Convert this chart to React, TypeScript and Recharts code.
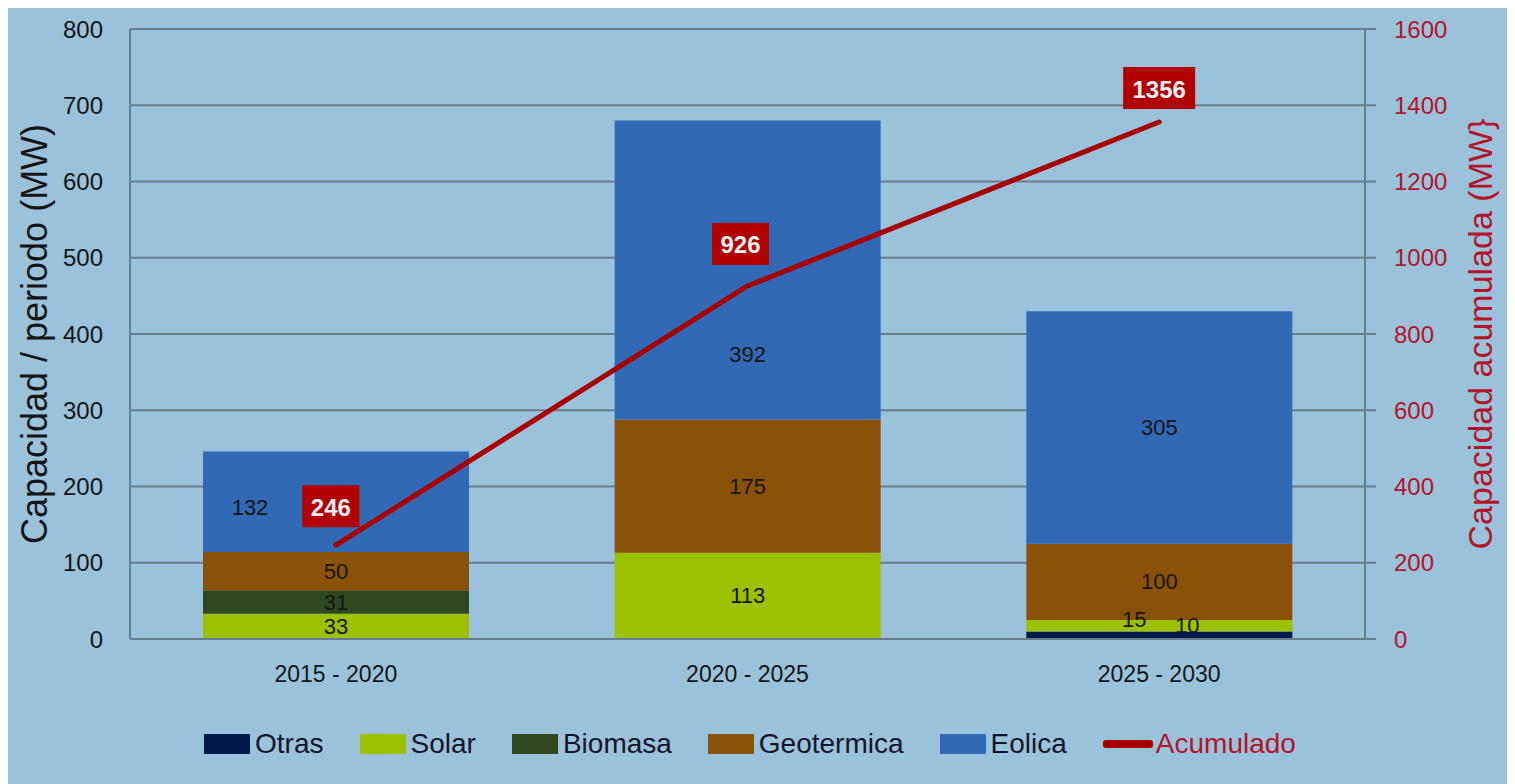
import React from 'react';
import {
  ComposedChart,
  Bar,
  Line,
  XAxis,
  YAxis,
  CartesianGrid,
  Legend,
  LabelList,
} from 'recharts';

const periods = ['2015 - 2020', '2020 - 2025', '2025 - 2030'];
const otras = [0, 0, 10];
const solar = [33, 113, 15];
const biomasa = [31, 0, 0];
const geotermica = [50, 175, 100];
const eolica = [132, 392, 305];
const acumulado = [246, 926, 1356];
const leftTicks = [0, 100, 200, 300, 400, 500, 600, 700, 800];
const rightTicks = [0, 200, 400, 600, 800, 1000, 1200, 1400, 1600];

const data = periods.map((p, i) => ({
  period: p,
  Otras: otras[i],
  Solar: solar[i],
  Biomasa: biomasa[i],
  Geotermica: geotermica[i],
  Eolica: eolica[i],
  Acumulado: acumulado[i],
}));

const COLORS: Record<string, string> = {
  Otras: '#001A4E',
  Solar: '#9DC100',
  Biomasa: '#2F4820',
  Geotermica: '#8A5208',
  Eolica: '#3169B4',
};
const LINE_COLOR = '#A80000';
const BOX_COLOR = '#B20000';
const RED_TEXT = '#B41428';
const GRID = '#687D8C';
const BG = '#9AC2DB';
const FONT = '"Liberation Sans", Arial, sans-serif';

const seriesOrder = ['Otras', 'Solar', 'Biomasa', 'Geotermica', 'Eolica'];

// manual label nudges (as in the original), keyed by series and value
const labelShift: Record<string, [number, number]> = {
  'Eolica-132': [-86, 6],
  'Eolica-392': [0, 85],
  'Solar-15': [-25, -6],
  'Otras-10': [28, -10],
};
const lineLabelShift: Record<string, [number, number]> = {
  '246': [-5, -39],
  '926': [-7, -42],
  '1356': [0, -34],
};

const makeBarLabel = (key: string) => (props: any) => {
  const vb = props.viewBox || {};
  const x = props.x ?? vb.x;
  const y = props.y ?? vb.y;
  const width = props.width ?? vb.width;
  const height = props.height ?? vb.height;
  const value = props.value;
  if (!value) return null;
  const s = labelShift[`${key}-${value}`] || [0, 0];
  return (
    <text
      x={x + width / 2 + s[0]}
      y={y + height / 2 + s[1]}
      textAnchor="middle"
      dominantBaseline="central"
      fontFamily={FONT}
      fontSize={22}
      fill="#151515"
    >
      {value}
    </text>
  );
};

const LineLabel = (props: any) => {
  const { x, y, value } = props;
  const str = String(value);
  const s = lineLabelShift[str] || [0, -38];
  const w = str.length > 3 ? 72 : 57;
  const h = 42;
  const cx = x + s[0];
  const cy = y + s[1];
  return (
    <g>
      <rect x={cx - w / 2} y={cy - h / 2} width={w} height={h} fill={BOX_COLOR} />
      <text
        x={cx}
        y={cy + 1}
        textAnchor="middle"
        dominantBaseline="central"
        fontFamily={FONT}
        fontWeight="bold"
        fontSize={24}
        fill="#ECEFF4"
      >
        {str}
      </text>
    </g>
  );
};

const LegendContent = () => (
  <div
    style={{
      display: 'flex',
      justifyContent: 'center',
      alignItems: 'center',
      height: 40,
      gap: 36,
      fontFamily: FONT,
      fontSize: 28,
      paddingLeft: 5,
    }}
  >
    {seriesOrder.map((k) => (
      <div key={k} style={{ display: 'flex', alignItems: 'center' }}>
        <span style={{ display: 'inline-block', width: 46, height: 20, background: COLORS[k], marginRight: 5 }} />
        <span style={{ color: '#15152A' }}>{k}</span>
      </div>
    ))}
    <div style={{ display: 'flex', alignItems: 'center' }}>
      <span style={{ display: 'inline-block', width: 50, height: 8, borderRadius: 3, background: LINE_COLOR, marginRight: 3 }} />
      <span style={{ color: RED_TEXT }}>Acumulado</span>
    </div>
  </div>
);

export default function App() {
  return (
    <div style={{ width: 1507, height: 776, background: BG }}>
      <style>{'body{overflow:hidden}'}</style>
      <ComposedChart
        width={1507}
        height={776}
        data={data}
        margin={{ top: 21, right: 0, bottom: 20, left: 0 }}
        barSize={266}
      >
        <CartesianGrid yAxisId="left" vertical={false} stroke={GRID} strokeWidth={2} />
        <XAxis
          dataKey="period"
          height={85}
          tickLine={false}
          tickSize={0}
          tickMargin={27}
          axisLine={{ stroke: GRID, strokeWidth: 2 }}
          tick={{ fill: '#151515', fontSize: 23, fontFamily: FONT }}
        />
        <YAxis
          yAxisId="left"
          orientation="left"
          width={122}
          domain={[0, 800]}
          ticks={leftTicks}
          interval={0}
          tickLine={false}
          tickSize={0}
          tickMargin={27}
          axisLine={{ stroke: GRID, strokeWidth: 2 }}
          tick={{ fill: '#151515', fontSize: 24, fontFamily: FONT }}
          label={{
            value: 'Capacidad / periodo (MW)',
            angle: -90,
            position: 'insideLeft',
            offset: 26,
            style: { textAnchor: 'middle', fontSize: 36, fontFamily: FONT, fill: '#151515' },
          }}
        />
        <YAxis
          yAxisId="right"
          orientation="right"
          width={150}
          domain={[0, 1600]}
          ticks={rightTicks}
          interval={0}
          tickSize={11}
          tickMargin={18}
          tickLine={{ stroke: GRID, strokeWidth: 2 }}
          axisLine={{ stroke: GRID, strokeWidth: 2 }}
          tick={{ fill: RED_TEXT, fontSize: 24, fontFamily: FONT }}
          label={{
            value: 'Capacidad acumulada (MW}',
            angle: -90,
            position: 'insideRight',
            offset: 35,
            style: { textAnchor: 'middle', fontSize: 34, fontFamily: FONT, fill: RED_TEXT },
          }}
        />
        <Legend
          verticalAlign="bottom"
          height={40}
          wrapperStyle={{ left: 122, width: 1235, height: 40 }}
          content={<LegendContent />}
        />
        {seriesOrder.map((k) => (
          <Bar key={k} yAxisId="left" dataKey={k} stackId="a" fill={COLORS[k]} isAnimationActive={false}>
            <LabelList dataKey={k} content={makeBarLabel(k)} />
          </Bar>
        ))}
        <Line
          yAxisId="right"
          type="linear"
          dataKey="Acumulado"
          stroke={LINE_COLOR}
          strokeWidth={5}
          strokeLinecap="round"
          dot={false}
          activeDot={false}
          isAnimationActive={false}
        >
          <LabelList dataKey="Acumulado" content={<LineLabel />} />
        </Line>
      </ComposedChart>
    </div>
  );
}
